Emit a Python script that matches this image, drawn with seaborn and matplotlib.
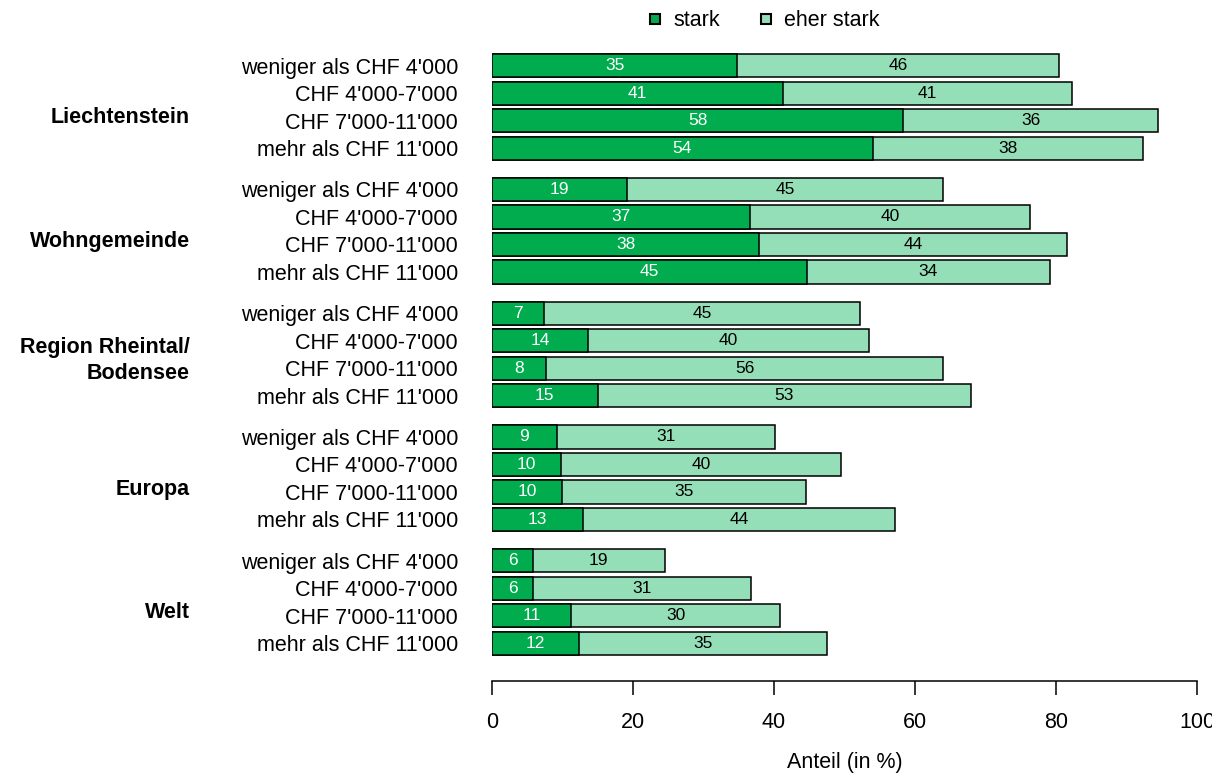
import pandas as pd
import numpy as np
import matplotlib
matplotlib.use("Agg")
import matplotlib.pyplot as plt
from matplotlib.lines import Line2D
import seaborn as sns

sns.set_theme(style="white")
plt.rcParams['font.family'] = ['Liberation Sans', 'DejaVu Sans']
plt.rcParams['text.color'] = 'black'
plt.rcParams['xtick.color'] = 'black'
plt.rcParams['ytick.color'] = 'black'
plt.rcParams['axes.labelcolor'] = 'black'

# data (in %)
regions = ["Liechtenstein", "Wohngemeinde", "Region Rheintal/\nBodensee", "Europa", "Welt"]
incomes = ["weniger als CHF 4'000", "CHF 4'000-7'000", "CHF 7'000-11'000", "mehr als CHF 11'000"]
stark = [34.8, 41.3, 58.3, 54.0,
         19.1, 36.6, 37.9, 44.7,
         7.4, 13.6, 7.7, 15.0,
         9.2, 9.8, 9.9, 12.9,
         5.8, 5.8, 11.2, 12.4]
eher_stark = [45.6, 41.0, 36.2, 38.3,
              44.9, 39.7, 43.6, 34.4,
              44.8, 39.9, 56.3, 52.9,
              30.9, 39.7, 34.6, 44.3,
              18.7, 30.9, 29.7, 35.1]

dark = "#00AC4E"
light = "#94DFB8"
gap = 0.5

rows = []
for g, reg in enumerate(regions):
    for i, inc in enumerate(incomes):
        k = g * len(incomes) + i
        rows.append({"region": reg, "income": inc, "stark": stark[k],
                     "eher": eher_stark[k], "pos": g * (len(incomes) + gap) + i})
df = pd.DataFrame(rows)
df["total"] = df["stark"] + df["eher"]

fig = plt.figure(figsize=(12.12, 7.73), dpi=100)
ax = fig.add_axes([492 / 1212, 1 - 681 / 773, 705 / 1212, (681 - 49.2) / 773])

sns.barplot(data=df, x="total", y="pos", orient="y", native_scale=True, width=0.85,
            color=light, saturation=1, edgecolor="black", linewidth=1.1, errorbar=None, ax=ax)
sns.barplot(data=df, x="stark", y="pos", orient="y", native_scale=True, width=0.85,
            color=dark, saturation=1, edgecolor="black", linewidth=1.1, errorbar=None, ax=ax)

for _, r in df.iterrows():
    ax.text(r["stark"] / 2, r["pos"], "%.0f" % r["stark"], ha="center", va="center",
            color="white", fontsize=12.5)
    ax.text(r["stark"] + r["eher"] / 2, r["pos"], "%.0f" % r["eher"], ha="center", va="center",
            color="black", fontsize=12.5)

ax.set_xlim(0, 100)
ax.set_ylim(22.375, -0.6)
ax.set_xticks([0, 20, 40, 60, 80, 100])
ax.tick_params(axis="x", length=10, width=1.1, color="black", pad=12, labelsize=15.5, bottom=True)
ax.set_yticks(df["pos"])
ax.set_yticklabels(df["income"], fontsize=15.5)
ax.tick_params(axis="y", length=0, pad=24.5)
ax.set_xlabel("Anteil (in %)", fontsize=15.5, labelpad=14)
ax.set_ylabel("")
sns.despine(ax=ax, left=True)
ax.spines["bottom"].set_linewidth(1.1)
ax.spines["bottom"].set_color("black")

trans = ax.get_yaxis_transform()
for g, reg in enumerate(regions):
    off = 1.72 if "\n" in reg else 1.9
    ax.text(-0.4284, g * (len(incomes) + gap) + off, reg, transform=trans, ha="right",
            va="center", fontsize=15.5, fontweight="bold", linespacing=1.3)

handles = [Line2D([], [], linestyle="none", marker="s", markersize=7, markerfacecolor=c,
                  markeredgecolor="black", markeredgewidth=1.5) for c in (dark, light)]
fig.legend(handles, ["stark", "eher stark"], loc="center", bbox_to_anchor=(762 / 1212, 1 - 21 / 773),
           ncol=2, frameon=False, fontsize=15.5, handlelength=1.0, handletextpad=0.35,
           columnspacing=1.6)

plt.savefig("out.png", dpi=100)
